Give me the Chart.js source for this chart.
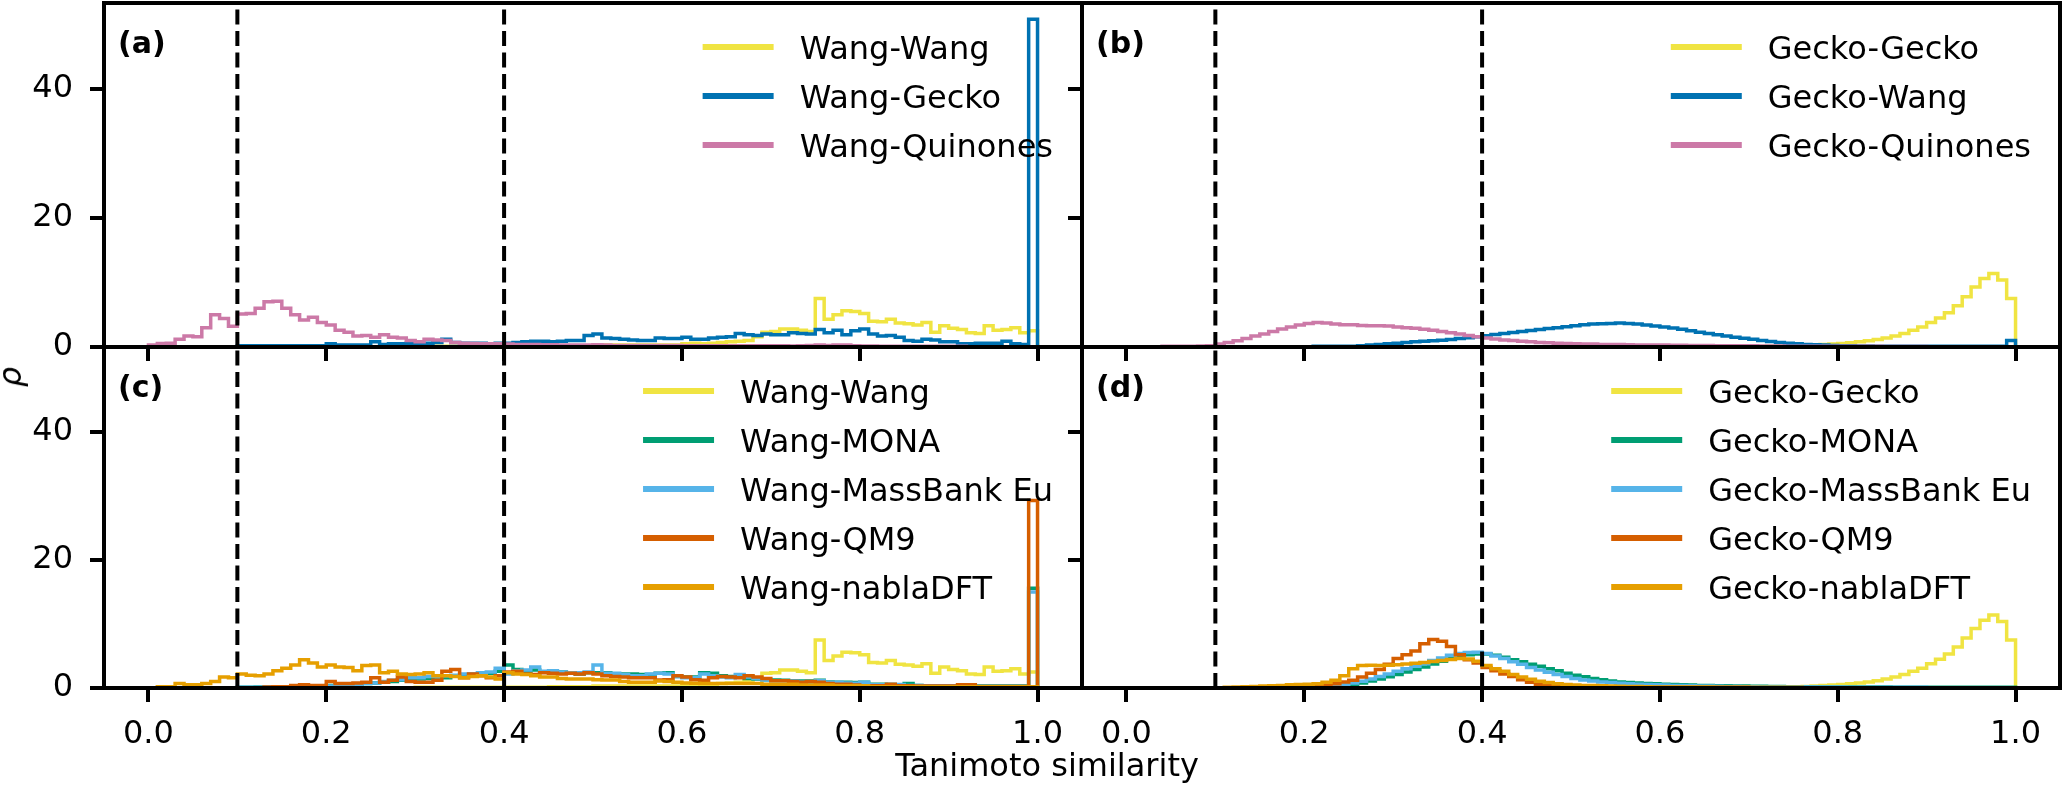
<!DOCTYPE html>
<html>
<head>
<meta charset="utf-8">
<script src="https://cdn.jsdelivr.net/npm/chart.js@4.4.1/dist/chart.umd.min.js"></script>
<style>
  html, body { margin: 0; padding: 0; background: #fff; }
  #fig { position: relative; width: 2067px; height: 786px; overflow: hidden; font-family: 'DejaVu Sans', sans-serif; }
  #fig canvas { position: absolute; }
  .lbl { position: absolute; font-size: 32px; line-height: 32px; color: #000; white-space: nowrap; }
  #xlab { left: 1047px; top: 749px; transform: translateX(-50%); }
  #ylab { left: 10px; top: 377px; transform: translate(-50%, -50%) rotate(-90deg); font-style: italic; }
</style>
</head>
<body>
<div id="fig">
  <canvas id="pa"></canvas>
  <canvas id="pb"></canvas>
  <canvas id="pc"></canvas>
  <canvas id="pd"></canvas>
  <div class="lbl" id="xlab">Tanimoto similarity</div>
  <div class="lbl" id="ylab">ρ</div>
</div>
<script>
// histogram bins: 0.00 .. 0.99, width 0.01
const binEdges = Array.from({length: 100}, (_, i) => i / 100);
const xTicks = [0, 0.2, 0.4, 0.6, 0.8, 1.0];
const yTicks = [0, 20, 40];
const cutoffs = [0.1, 0.4];
const xMin = -0.05, xMax = 1.05;
const yTop = 53.3;

// (a) and (c)
const wangWang = [
  0, 0, 0, 0, 0, 0, 0, 0, 0, 0,
  0, 0, 0, 0, 0, 0, 0, 0, 0, 0,
  0.05, 0.05, 0.05, 0.05, 0.05, 0.05, 0.05, 0.05, 0.05, 0.05,
  0.1, 0.1, 0.1, 0.1, 0.1, 0.1, 0.1, 0.1, 0.1, 0.1,
  0.1, 0.1, 0.1, 0.1, 0.1, 0.2, 0.2, 0.2, 0.2, 0.2,
  0.3, 0.3, 0.3, 0.3, 0.3, 0.3, 0.3, 0.3, 0.3, 0.3,
  0.5, 0.6, 0.5, 0.6, 0.7, 0.8, 0.9, 1.0, 1.6, 2.3,
  2.4, 2.8, 2.8, 2.6, 2.4, 7.5, 4.3, 5.0, 5.6, 5.5,
  5.2, 4.0, 3.9, 4.3, 3.7, 3.6, 3.4, 3.8, 2.3, 3.3,
  2.9, 2.7, 2.2, 2.1, 3.3, 2.6, 2.7, 3.0, 2.2, 2.5
];
const wangGecko = [
  0, 0, 0, 0, 0, 0, 0, 0, 0, 0.05,
  0.2, 0.2, 0.2, 0.2, 0.2, 0.2, 0.2, 0.2, 0.2, 0.2,
  0.5, 0.3, 0.3, 0.3, 0.3, 0.8, 0.4, 0.5, 0.5, 0.6,
  0.5, 0.6, 0.7, 1.2, 0.7, 0.6, 0.6, 0.6, 0.5, 0.6,
  0.6, 0.7, 0.8, 0.9, 0.9, 0.8, 0.9, 1.0, 1.0, 1.8,
  2.0, 1.4, 1.3, 1.2, 1.1, 1.0, 1.0, 1.4, 1.3, 1.3,
  1.5, 1.2, 1.2, 1.4, 1.5, 1.6, 2.1, 1.9, 1.8, 2.0,
  1.9, 1.9, 2.2, 2.1, 2.0, 2.7, 2.2, 2.6, 1.9, 2.5,
  2.8, 2.0, 1.7, 1.8, 1.5, 1.0, 0.9, 1.2, 1.1, 0.8,
  0.8, 0.5, 0.5, 0.6, 0.6, 0.6, 0.9, 0.5, 0.4, 50.8
];
const wangQuinones = [
  0.3, 0.55, 0.6, 1.2, 1.7, 1.6, 3.0, 5.0, 4.4, 3.2,
  5.1, 5.2, 6.0, 7.0, 7.1, 6.0, 5.0, 4.2, 4.6, 3.8,
  3.4, 2.6, 2.3, 1.7, 1.8, 1.5, 1.9, 1.5, 1.4, 1.0,
  0.8, 1.2, 1.1, 1.0, 0.7, 0.6, 0.55, 0.5, 0.5, 0.5,
  0.45, 0.4, 0.4, 0.4, 0.35, 0.35, 0.3, 0.3, 0.3, 0.3,
  0.35, 0.3, 0.25, 0.25, 0.25, 0.25, 0.25, 0.25, 0.25, 0.25,
  0.2, 0.2, 0.2, 0.2, 0.2, 0.2, 0.2, 0.2, 0.2, 0.2,
  0.2, 0.2, 0.15, 0.2, 0.25, 0.3, 0.25, 0.3, 0.3, 0.2,
  0.15, 0.15, 0.1, 0.1, 0.1, 0.1, 0.1, 0.1, 0.1, 0.1,
  0.1, 0.1, 0.05, 0.05, 0.05, 0.05, 0.05, 0.05, 0.05, 0.05
];
const wangMona = [
  0, 0, 0, 0, 0, 0, 0, 0, 0, 0,
  0.1, 0.1, 0.15, 0.15, 0.2, 0.2, 0.25, 0.3, 0.3, 0.35,
  0.4, 0.5, 0.55, 0.6, 0.7, 0.8, 0.9, 1.0, 1.2, 1.3,
  1.4, 1.5, 1.7, 1.6, 1.9, 2.0, 2.1, 2.2, 2.3, 2.6,
  3.6, 2.9, 2.6, 2.8, 2.5, 2.4, 2.5, 2.3, 2.2, 2.4,
  2.4, 2.4, 2.2, 2.2, 2.2, 2.1, 2.1, 2.3, 2.4, 1.8,
  1.7, 1.7, 2.4, 2.3, 1.9, 1.8, 1.8, 1.5, 1.4, 1.3,
  1.25, 1.2, 1.15, 1.1, 1.1, 1.2, 0.95, 0.9, 0.9, 0.85,
  0.9, 0.6, 0.6, 0.55, 0.5, 0.7, 0.4, 0.35, 0.35, 0.35,
  0.35, 0.3, 0.3, 0.3, 0.3, 0.3, 0.3, 0.3, 0.3, 15.6
];
const wangMassBank = [
  0, 0, 0, 0, 0, 0, 0, 0, 0, 0,
  0.1, 0.1, 0.1, 0.15, 0.15, 0.2, 0.2, 0.2, 0.25, 0.3,
  0.3, 0.4, 0.5, 0.6, 0.7, 0.8, 1.0, 1.2, 1.3, 1.6,
  1.6, 1.8, 1.8, 1.9, 2.0, 2.2, 2.2, 2.4, 2.5, 3.1,
  2.2, 2.7, 2.8, 3.3, 2.6, 2.7, 2.5, 2.3, 2.4, 2.5,
  3.6, 2.3, 2.3, 2.1, 1.9, 1.9, 2.2, 2.3, 2.2, 1.8,
  1.6, 1.6, 2.2, 1.9, 1.7, 1.6, 2.1, 1.7, 1.5, 1.25,
  1.15, 1.15, 1.1, 0.9, 0.9, 1.15, 0.9, 0.9, 0.8, 0.75,
  0.9, 0.5, 0.5, 0.55, 0.55, 0.4, 0.4, 0.35, 0.35, 0.35,
  0.35, 0.3, 0.25, 0.25, 0.25, 0.25, 0.25, 0.25, 0.25, 15.0
];
const wangQm9 = [
  0, 0, 0, 0, 0, 0, 0, 0, 0, 0,
  0, 0, 0.05, 0.15, 0.2, 0.2, 0.4, 0.5, 0.4, 0.4,
  1.0, 0.7, 0.7, 0.8, 0.9, 1.6, 0.9, 1.2, 1.7, 1.0,
  0.9, 0.9, 1.2, 2.6, 2.9, 1.6, 2.2, 1.9, 1.6, 1.9,
  2.5, 2.6, 2.2, 2.1, 2.4, 2.3, 2.2, 2.3, 2.2, 2.4,
  2.2, 1.9, 1.8, 1.7, 1.6, 1.6, 1.6, 1.25, 1.3, 1.9,
  1.7, 1.3, 1.2, 1.6, 1.8, 1.7, 1.6, 1.9, 1.7, 1.5,
  1.15, 1.15, 1.0, 0.9, 1.0, 0.9, 0.7, 0.6, 0.6, 0.45,
  0.35, 0.35, 0.35, 0.6, 0.35, 0.35, 0.3, 0.3, 0.3, 0.3,
  0.3, 0.5, 0.5, 0.25, 0.25, 0.25, 0.25, 0.25, 0.25, 29.3
];
const wangNabla = [
  0.05, 0.2, 0.2, 0.7, 0.5, 0.5, 0.7, 1.0, 1.7, 1.6,
  2.2, 2.0, 1.9, 2.2, 2.7, 3.1, 3.6, 4.4, 3.9, 3.3,
  3.6, 3.3, 3.2, 2.7, 3.5, 3.6, 2.4, 2.6, 2.2, 2.1,
  2.2, 2.4, 1.9, 1.9, 1.8, 1.6, 1.8, 1.9, 1.7, 1.4,
  2.4, 2.2, 2.1, 1.9, 1.7, 1.7, 1.5, 1.4, 1.4, 1.4,
  1.3, 1.25, 1.25, 1.0, 0.9, 0.9, 0.9, 1.1, 1.0, 0.9,
  0.8, 0.75, 0.7, 0.7, 0.7, 0.7, 0.7, 0.7, 0.7, 0.6,
  0.6, 0.6, 0.6, 0.45, 0.45, 0.45, 0.45, 0.35, 0.35, 0.35,
  0.35, 0.2, 0.2, 0.2, 0.2, 0.2, 0.2, 0.2, 0.2, 0.2,
  0.2, 0.2, 0.2, 0.2, 0.2, 0.2, 0.2, 0.2, 0.2, 0.2
];

// (b) and (d)
const geckoGecko = [
  0, 0, 0, 0, 0, 0, 0, 0, 0, 0,
  0, 0, 0, 0, 0, 0, 0, 0, 0, 0,
  0, 0, 0, 0, 0, 0, 0, 0, 0, 0,
  0, 0, 0, 0, 0, 0, 0, 0, 0, 0,
  0, 0, 0, 0, 0, 0, 0, 0, 0, 0,
  0, 0, 0, 0, 0, 0, 0, 0, 0, 0,
  0, 0, 0, 0, 0, 0, 0, 0, 0, 0,
  0.05, 0.08, 0.1, 0.12, 0.15, 0.2, 0.25, 0.3, 0.4, 0.45,
  0.55, 0.65, 0.8, 0.95, 1.15, 1.4, 1.7, 2.1, 2.6, 3.1,
  3.8, 4.5, 5.3, 6.4, 7.8, 9.3, 10.6, 11.4, 10.4, 7.5
];
const geckoWang = [
  0, 0, 0, 0, 0, 0, 0, 0, 0, 0,
  0, 0, 0, 0, 0, 0.05, 0.05, 0.05, 0.05, 0.05,
  0.05, 0.1, 0.1, 0.1, 0.1, 0.1, 0.2, 0.3, 0.4, 0.5,
  0.6, 0.7, 0.8, 0.9, 0.95, 1.05, 1.15, 1.3, 1.45, 1.6,
  1.75, 1.95, 2.1, 2.25, 2.4, 2.55, 2.7, 2.85, 3.0, 3.15,
  3.3, 3.45, 3.55, 3.6, 3.65, 3.7, 3.65, 3.55, 3.4, 3.25,
  3.1, 2.95, 2.75, 2.5, 2.3, 2.1, 1.9, 1.7, 1.5, 1.35,
  1.2, 1.0, 0.85, 0.7, 0.6, 0.5, 0.4, 0.35, 0.3, 0.25,
  0.2, 0.18, 0.15, 0.15, 0.12, 0.1, 0.1, 0.1, 0.1, 0.1,
  0.1, 0.1, 0.1, 0.1, 0.1, 0.1, 0.1, 0.1, 0.1, 1.0
];
const geckoQuinones = [
  0, 0, 0, 0.05, 0.1, 0.1, 0.1, 0.1, 0.15, 0.2,
  0.45, 0.7, 0.95, 1.3, 1.7, 2.0, 2.4, 2.8, 3.1, 3.4,
  3.65, 3.8, 3.7, 3.55, 3.45, 3.45, 3.35, 3.3, 3.3, 3.25,
  3.1, 3.0, 2.9, 2.75, 2.6, 2.4, 2.2, 2.0, 1.8, 1.6,
  1.4, 1.25, 1.1, 1.0, 0.9, 0.8, 0.7, 0.65, 0.6, 0.55,
  0.5, 0.45, 0.45, 0.4, 0.4, 0.38, 0.35, 0.3, 0.3, 0.3,
  0.3, 0.28, 0.26, 0.25, 0.24, 0.22, 0.2, 0.2, 0.2, 0.2,
  0.18, 0.16, 0.15, 0.14, 0.13, 0.12, 0.12, 0.11, 0.1, 0.1,
  0.1, 0.1, 0.1, 0.1, 0.1, 0.08, 0.08, 0.08, 0.08, 0.08,
  0.05, 0.05, 0.05, 0.05, 0.05, 0.05, 0.05, 0.05, 0.05, 0.05
];
const geckoMona = [
  0, 0, 0, 0, 0, 0, 0, 0, 0, 0,
  0, 0, 0, 0, 0, 0, 0, 0, 0.05, 0.1,
  0.1, 0.15, 0.2, 0.3, 0.4, 0.6, 0.8, 1.1, 1.4, 1.75,
  2.1, 2.5, 2.9, 3.3, 3.75, 4.2, 4.6, 4.9, 5.2, 5.3,
  5.3, 5.1, 4.8, 4.4, 4.1, 3.7, 3.4, 3.0, 2.7, 2.3,
  2.0, 1.75, 1.5, 1.3, 1.1, 0.95, 0.85, 0.8, 0.72, 0.65,
  0.6, 0.55, 0.5, 0.45, 0.4, 0.38, 0.36, 0.34, 0.32, 0.3,
  0.28, 0.26, 0.24, 0.22, 0.2, 0.18, 0.15, 0.15, 0.15, 0.15,
  0.15, 0.15, 0.15, 0.15, 0.15, 0.15, 0.1, 0.1, 0.1, 0.1,
  0.1, 0.1, 0.1, 0.1, 0.1, 0.1, 0.1, 0.1, 0.1, 0.1
];
const geckoMassBank = [
  0, 0, 0, 0, 0, 0, 0, 0, 0, 0,
  0, 0, 0, 0, 0, 0.05, 0.05, 0.1, 0.1, 0.1,
  0.15, 0.2, 0.3, 0.4, 0.55, 0.8, 1.05, 1.4, 1.8, 2.2,
  2.6, 3.0, 3.4, 3.8, 4.3, 4.7, 5.1, 5.4, 5.55, 5.6,
  5.4, 5.0, 4.6, 4.1, 3.7, 3.2, 2.8, 2.45, 2.1, 1.8,
  1.5, 1.25, 1.1, 0.95, 0.85, 0.75, 0.65, 0.6, 0.55, 0.5,
  0.45, 0.4, 0.38, 0.35, 0.32, 0.3, 0.28, 0.25, 0.22, 0.2,
  0.18, 0.15, 0.15, 0.15, 0.15, 0.15, 0.15, 0.15, 0.15, 0.15,
  0.15, 0.1, 0.1, 0.1, 0.1, 0.1, 0.1, 0.1, 0.1, 0.1,
  0.05, 0.05, 0.05, 0.05, 0.05, 0.05, 0.05, 0.05, 0.05, 0.05
];
const geckoQm9 = [
  0, 0, 0, 0, 0, 0, 0, 0, 0, 0,
  0, 0, 0.05, 0.05, 0.05, 0.1, 0.1, 0.15, 0.15, 0.2,
  0.25, 0.3, 0.5, 0.65, 0.95, 1.2, 1.7, 2.3, 2.9, 3.7,
  4.6, 5.2, 5.8, 6.9, 7.6, 7.3, 6.5, 5.2, 4.4, 3.9,
  3.2, 2.7, 2.2, 1.8, 1.3, 0.9, 0.6, 0.5, 0.35, 0.25,
  0.2, 0.15, 0.15, 0.15, 0.15, 0.15, 0.1, 0.1, 0.1, 0.1,
  0.1, 0.1, 0.1, 0.1, 0.1, 0.1, 0.1, 0.1, 0.1, 0.1,
  0.05, 0.05, 0.05, 0.05, 0.05, 0.05, 0.05, 0.05, 0.05, 0.05,
  0.05, 0.05, 0.05, 0.05, 0.05, 0.05, 0.05, 0.05, 0.05, 0.05,
  0.05, 0.05, 0.05, 0.05, 0.05, 0.05, 0.05, 0.05, 0.05, 0.05
];
const geckoNabla = [
  0, 0, 0, 0, 0, 0, 0, 0, 0, 0,
  0.05, 0.1, 0.15, 0.2, 0.25, 0.3, 0.35, 0.4, 0.5, 0.55,
  0.6, 0.65, 0.9, 1.2, 1.9, 3.0, 3.5, 3.55, 3.5, 3.55,
  3.65, 3.75, 3.85, 4.0, 4.15, 4.3, 4.45, 4.6, 4.55, 4.2,
  3.5, 3.0, 2.6, 2.1, 1.7, 1.35, 1.05, 0.85, 0.65, 0.55,
  0.45, 0.4, 0.38, 0.35, 0.3, 0.28, 0.25, 0.22, 0.2, 0.15,
  0.15, 0.15, 0.15, 0.15, 0.15, 0.15, 0.1, 0.1, 0.1, 0.1,
  0.1, 0.1, 0.1, 0.1, 0.1, 0.1, 0.05, 0.05, 0.05, 0.05,
  0.05, 0.05, 0.05, 0.05, 0.05, 0.05, 0.05, 0.05, 0.05, 0.05,
  0.05, 0.05, 0.05, 0.05, 0.05, 0.05, 0.05, 0.05, 0.05, 0.05
];

const colors = {
  yellow: '#F0E442', blue: '#0072B2', pink: '#CC79A7', green: '#009E73',
  sky: '#56B4E9', red: '#D55E00', orange: '#E69F00'
};

// frame positions in page pixels
const frameLeft = 104, frameMid = 1082, frameRight = 2060;
const frameTop = 3, frameMidY = 347, frameBottom = 688;
const font = 'DejaVu Sans';
const fontSize = 32;

function stepPoints(values) {
  const pts = [{x: binEdges[0], y: 0}];
  values.forEach((v, i) => pts.push({x: binEdges[i], y: v}));
  pts.push({x: 1.0, y: 0});
  return pts;
}

function makePanel(p) {
  const padTop = 6, padRight = 6;
  const canvas = document.getElementById(p.id);
  canvas.width = p.yAxisW + (p.right - p.left) + padRight;
  canvas.height = padTop + (p.bottom - p.top) + p.xAxisH;
  canvas.style.left = (p.left - p.yAxisW) + 'px';
  canvas.style.top = (p.top - padTop) + 'px';

  const n = p.series.length;
  const datasets = p.series.map((s, i) => ({
    label: s.label,
    data: stepPoints(s.values),
    borderColor: s.color,
    borderWidth: 3.5,
    stepped: true,
    fill: false,
    pointRadius: 0,
    order: n - i
  }));
  cutoffs.forEach(c => datasets.push({
    label: 'cut ' + c,
    data: [{x: c, y: 0}, {x: c, y: yTop}],
    borderColor: '#000',
    borderWidth: 4,
    borderDash: [15, 6.5],
    pointRadius: 0,
    order: -1
  }));

  const deco = {
    id: 'deco' + p.id,
    afterDatasetsDraw(chart) {
      const a = chart.chartArea, ctx = chart.ctx;
      ctx.save();
      ctx.strokeStyle = '#000';
      ctx.lineWidth = 4;
      ctx.strokeRect(a.left, a.top, a.right - a.left, a.bottom - a.top);
      ctx.restore();
    },
    afterDraw(chart) {
      const a = chart.chartArea, ctx = chart.ctx;
      ctx.save();
      ctx.font = fontSize + 'px "' + font + '"';
      const maxW = Math.max(...p.series.map(s => ctx.measureText(s.label).width));
      const textX = a.right - 29 - maxW;
      p.series.forEach((s, i) => {
        const y = a.top + 44 + i * 49;
        ctx.strokeStyle = s.color;
        ctx.lineWidth = 6;
        ctx.beginPath();
        ctx.moveTo(textX - 26 - 71, y);
        ctx.lineTo(textX - 26, y);
        ctx.stroke();
        ctx.fillStyle = '#000';
        ctx.textBaseline = 'alphabetic';
        ctx.textAlign = 'left';
        ctx.fillText(s.label, textX, y + 11.5);
      });
      ctx.font = 'bold 30px "' + font + '"';
      ctx.fillText(p.tag, a.left + 14, a.top + 50);
      ctx.restore();
    }
  };

  const tickFont = {family: font, size: fontSize};
  const gridOpts = {drawOnChartArea: false, drawTicks: true, tickLength: 14, tickWidth: 4, lineWidth: 4, tickColor: '#000'};
  return new Chart(canvas, {
    type: 'line',
    data: {datasets},
    plugins: [deco],
    options: {
      responsive: false,
      animation: false,
      devicePixelRatio: 1,
      events: [],
      layout: {padding: {top: padTop, right: padRight, left: 0, bottom: 0}},
      plugins: {legend: {display: false}, tooltip: {enabled: false}},
      scales: {
        x: {
          type: 'linear', min: xMin, max: xMax,
          afterBuildTicks: s => { s.ticks = xTicks.map(v => ({value: v})); },
          afterFit: s => { s.height = p.xAxisH; s.paddingLeft = 0; s.paddingRight = 0; },
          grid: gridOpts,
          border: {display: false},
          ticks: {display: p.showX, autoSkip: false, maxRotation: 0, padding: 13, color: '#000', font: tickFont,
                  callback: v => v.toFixed(1)}
        },
        y: {
          type: 'linear', min: 0, max: yTop,
          afterBuildTicks: s => { s.ticks = yTicks.map(v => ({value: v})); },
          afterFit: s => { s.width = p.yAxisW; s.paddingTop = 0; s.paddingBottom = 0; },
          grid: gridOpts,
          border: {display: false},
          ticks: {display: p.showY, autoSkip: false, padding: 17, color: '#000', font: tickFont,
                  callback: v => String(v)}
        }
      }
    }
  });
}

makePanel({
  id: 'pa', left: frameLeft, right: frameMid, top: frameTop, bottom: frameMidY,
  yAxisW: 104, xAxisH: 16, showX: false, showY: true, tag: '(a)',
  series: [
    {label: 'Wang-Wang', color: colors.yellow, values: wangWang},
    {label: 'Wang-Gecko', color: colors.blue, values: wangGecko},
    {label: 'Wang-Quinones', color: colors.pink, values: wangQuinones}
  ]
});
makePanel({
  id: 'pb', left: frameMid, right: frameRight, top: frameTop, bottom: frameMidY,
  yAxisW: 20, xAxisH: 16, showX: false, showY: false, tag: '(b)',
  series: [
    {label: 'Gecko-Gecko', color: colors.yellow, values: geckoGecko},
    {label: 'Gecko-Wang', color: colors.blue, values: geckoWang},
    {label: 'Gecko-Quinones', color: colors.pink, values: geckoQuinones}
  ]
});
makePanel({
  id: 'pc', left: frameLeft, right: frameMid, top: frameMidY, bottom: frameBottom,
  yAxisW: 104, xAxisH: 60, showX: true, showY: true, tag: '(c)',
  series: [
    {label: 'Wang-Wang', color: colors.yellow, values: wangWang},
    {label: 'Wang-MONA', color: colors.green, values: wangMona},
    {label: 'Wang-MassBank Eu', color: colors.sky, values: wangMassBank},
    {label: 'Wang-QM9', color: colors.red, values: wangQm9},
    {label: 'Wang-nablaDFT', color: colors.orange, values: wangNabla}
  ]
});
makePanel({
  id: 'pd', left: frameMid, right: frameRight, top: frameMidY, bottom: frameBottom,
  yAxisW: 20, xAxisH: 60, showX: true, showY: false, tag: '(d)',
  series: [
    {label: 'Gecko-Gecko', color: colors.yellow, values: geckoGecko},
    {label: 'Gecko-MONA', color: colors.green, values: geckoMona},
    {label: 'Gecko-MassBank Eu', color: colors.sky, values: geckoMassBank},
    {label: 'Gecko-QM9', color: colors.red, values: geckoQm9},
    {label: 'Gecko-nablaDFT', color: colors.orange, values: geckoNabla}
  ]
});
</script>
</body>
</html>
